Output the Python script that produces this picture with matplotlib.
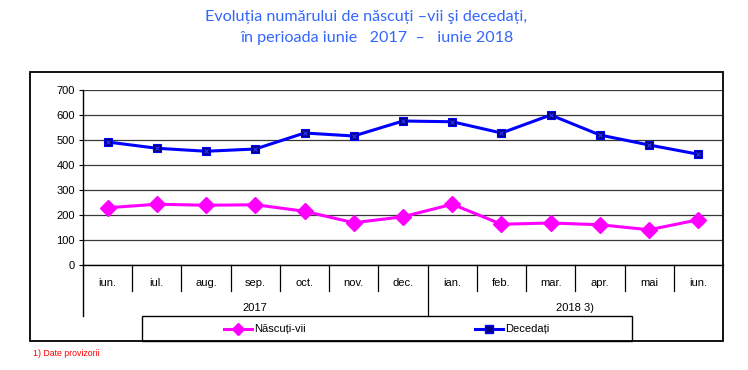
import matplotlib.pyplot as plt
from matplotlib.patches import Rectangle
from matplotlib.lines import Line2D
import matplotlib.transforms as mtransforms

plt.switch_backend('Agg')

# data
months = ["iun.", "iul.", "aug.", "sep.", "oct.", "nov.", "dec.",
          "ian.", "feb.", "mar.", "apr.", "mai", "iun."]
years = ["2017", "2018 3)"]
year_spans = [(0, 6), (7, 12)]
nascuti_vii = [229, 243, 239, 241, 215, 169, 193, 243, 163, 168, 161, 141, 181]
decedati = [492, 467, 455, 464, 528, 516, 576, 573, 528, 600, 520, 480, 443]

W, H = 748, 370
fig = plt.figure(figsize=(W / 100, H / 100), dpi=100)


def fx(px):
    return px / W


def fy(py):
    return 1 - py / H


# outer frame of the chart
fig.patches.append(Rectangle((fx(30), fy(341)), fx(723) - fx(30), fy(72) - fy(341),
                             transform=fig.transFigure, fill=False,
                             edgecolor='black', linewidth=1.3))

title_color = '#3366FF'
fig.text(fx(366), fy(17), "Evoluția numărului de născuți –vii şi decedați,",
         ha='center', va='center', fontsize=11.6, color=title_color, family='Lato')
fig.text(fx(377), fy(38), "în perioada iunie   2017  –   iunie 2018",
         ha='center', va='center', fontsize=11.6, color=title_color, family='Lato')

ax = fig.add_axes([fx(83), fy(265), fx(723) - fx(83), fy(90) - fy(265)])
x = list(range(len(months)))

ax.plot(x, nascuti_vii, color='#FF00FF', linewidth=2.2, marker='D',
        markersize=8, markerfacecolor='#FF00FF', markeredgecolor='#FF00FF', zorder=3)
ax.plot(x, decedati, color='#0000FF', linewidth=2.2, marker='s',
        markersize=6, markerfacecolor='#000080', markeredgecolor='#0000FF',
        markeredgewidth=0.8, zorder=3)
ax.plot(x, decedati, linestyle='none', marker='x', markersize=3.5,
        color='#3333FF', markeredgewidth=0.8, zorder=4)

ax.set_xlim(-0.5, len(months) - 0.5)
ax.set_ylim(0, 700)
ax.set_yticks(range(0, 701, 100))
ax.tick_params(axis='y', labelsize=8, length=3, width=0.8, pad=3)
ax.set_xticks([])
for label in ax.get_yticklabels():
    label.set_family('Liberation Sans')

ax.grid(axis='y', color='#383838', linewidth=0.9)
ax.set_axisbelow(True)
for side in ['top', 'right']:
    ax.spines[side].set_visible(False)
ax.spines['left'].set_linewidth(1.0)
ax.spines['bottom'].set_linewidth(1.0)

# category axis: months, then years
trans = mtransforms.blended_transform_factory(ax.transData, ax.transAxes)
px_per_axes = fy(90) - fy(265)


def ay(py):
    return (fy(py) - fy(265)) / px_per_axes


for i, m in enumerate(months):
    ax.text(i, ay(283), m, transform=trans, ha='center', va='center',
            fontsize=8, family='Liberation Sans', clip_on=False)
for i in range(1, len(months)):
    bottom = 316 if i == 7 else 291
    ax.add_line(Line2D([i - 0.5, i - 0.5], [0, ay(bottom)], transform=trans,
                       color='black', linewidth=0.9, clip_on=False))
ax.add_line(Line2D([-0.5, -0.5], [0, ay(316)], transform=trans,
                   color='black', linewidth=1.0, clip_on=False))
for yr, (a, b) in zip(years, year_spans):
    ax.text((a + b) / 2, ay(308), yr, transform=trans, ha='center', va='center',
            fontsize=8, family='Liberation Sans', clip_on=False)

# legend box
fig.patches.append(Rectangle((fx(142), fy(341)), fx(632) - fx(142), fy(316) - fy(341),
                             transform=fig.transFigure, fill=False,
                             edgecolor='black', linewidth=1.0))
ly = fy(329)
fig.add_artist(Line2D([fx(224), fx(252)], [ly, ly], color='#FF00FF', linewidth=2.2,
                      transform=fig.transFigure))
fig.add_artist(Line2D([fx(238)], [ly], marker='D', markersize=6, color='#FF00FF',
                      transform=fig.transFigure))
fig.text(fx(254), ly, "Născuți-vii", ha='left', va='center', fontsize=8,
         family='Liberation Sans')
fig.add_artist(Line2D([fx(475), fx(503)], [ly, ly], color='#0000FF', linewidth=2.2,
                      transform=fig.transFigure))
fig.add_artist(Line2D([fx(489)], [ly], marker='s', markersize=6,
                      markerfacecolor='#000080', markeredgecolor='#0000FF',
                      transform=fig.transFigure))
fig.text(fx(505), ly, "Decedați", ha='left', va='center', fontsize=8,
         family='Liberation Sans')

fig.text(fx(33), fy(354), "1) Date provizorii", ha='left', va='center',
         fontsize=6.3, color='#FF0000', family='Liberation Sans')

fig.savefig("out.png", dpi=100)
plt.close(fig)
